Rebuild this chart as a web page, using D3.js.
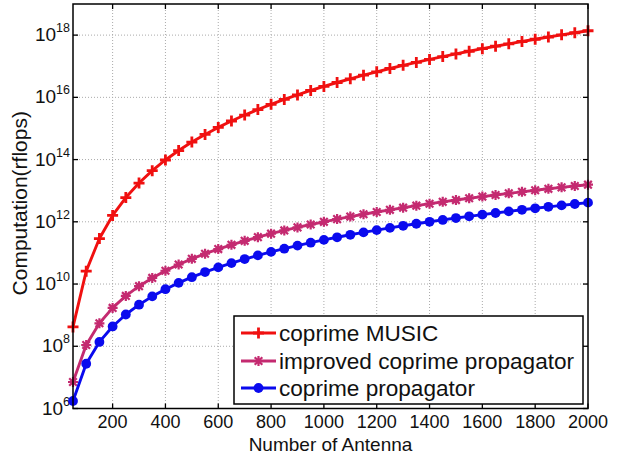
<!DOCTYPE html>
<html><head><meta charset="utf-8">
<script src="https://cdn.jsdelivr.net/npm/d3@7"></script>
<style>body{margin:0;background:#fff;}svg{display:block;font-family:"Liberation Sans",Arial,sans-serif;}</style>
</head><body>
<svg id="c" width="619" height="456"></svg>
<script>
const antennas = [50,100,150,200,250,300,350,400,450,500,550,600,650,700,750,800,850,900,950,1000,
  1050,1100,1150,1200,1250,1300,1350,1400,1450,1500,1550,1600,1650,1700,1750,1800,1850,1900,1950,2000];
const coprimeMUSIC = [4.2e8,2.6e10,2.9e11,1.6e12,6.0e12,1.76e13,4.4e13,9.7e13,1.95e14,3.66e14,
  6.44e14,1.08e15,1.74e15,2.70e15,4.06e15,5.96e15,8.55e15,1.20e16,1.66e16,2.24e16,
  3.00e16,3.95e16,5.15e16,6.62e16,8.45e16,1.07e17,1.33e17,1.66e17,2.04e17,2.49e17,
  3.03e17,3.66e17,4.40e17,5.25e17,6.24e17,7.36e17,8.67e17,1.02e18,1.19e18,1.38e18];
const improvedPropagator = [7.1e6,1.10e8,5.48e8,1.71e9,4.15e9,8.53e9,1.57e10,2.67e10,4.25e10,6.46e10,
  9.42e10,1.33e11,1.82e11,2.45e11,3.21e11,4.15e11,5.28e11,6.62e11,8.20e11,1.00e12,
  1.22e12,1.47e12,1.75e12,2.07e12,2.43e12,2.84e12,3.30e12,3.81e12,4.38e12,5.00e12,
  5.70e12,6.46e12,7.29e12,8.22e12,9.20e12,1.03e13,1.15e13,1.28e13,1.42e13,1.56e13];
const coprimePropagator = [1.74e6,2.74e7,1.38e8,4.33e8,1.05e9,2.17e9,4.01e9,6.82e9,1.09e10,1.66e10,
  2.43e10,3.43e10,4.71e10,6.34e10,8.34e10,1.08e11,1.37e11,1.72e11,2.13e11,2.62e11,
  3.18e11,3.83e11,4.57e11,5.41e11,6.37e11,7.45e11,8.65e11,1.00e12,1.15e12,1.32e12,
  1.50e12,1.70e12,1.92e12,2.16e12,2.43e12,2.72e12,3.03e12,3.37e12,3.73e12,4.13e12];
const xTicks = [200,400,600,800,1000,1200,1400,1600,1800,2000];
const yTickExps = [6,8,10,12,14,16,18];
const seriesNames = ["coprime MUSIC","improved coprime propagator","coprime propagator"];
const seriesColors = ["#f01010","#c42a70","#0a0aee"];
const seriesMarkers = ["plus","star","circle"];
const seriesData = [coprimeMUSIC, improvedPropagator, coprimePropagator];

const svg = d3.select("#c");
const L=73, R=588, T=4, B=408.5;
const x = d3.scaleLinear().domain([50,2000]).range([L,R]);
const y = d3.scaleLog().domain([1e6,1e19]).range([B,T]);

// grid
const g = svg.append("g");
g.selectAll("line.gx").data(xTicks.filter(d=>d<2000)).enter().append("line")
  .attr("x1",d=>x(d)).attr("x2",d=>x(d)).attr("y1",T).attr("y2",B)
  .attr("stroke","#aaa").attr("stroke-width",1).attr("stroke-dasharray","1,2");
g.selectAll("line.gy").data(yTickExps.filter(e=>e>6)).enter().append("line")
  .attr("x1",L).attr("x2",R).attr("y1",e=>y(Math.pow(10,e))).attr("y2",e=>y(Math.pow(10,e)))
  .attr("stroke","#aaa").attr("stroke-width",1).attr("stroke-dasharray","1,2");

// ticks inside on all sides
const tl=5;
xTicks.forEach(d=>{
  svg.append("line").attr("x1",x(d)).attr("x2",x(d)).attr("y1",B).attr("y2",B-tl).attr("stroke","#000").attr("stroke-width",1.3);
  svg.append("line").attr("x1",x(d)).attr("x2",x(d)).attr("y1",T).attr("y2",T+tl).attr("stroke","#000").attr("stroke-width",1.3);
});
yTickExps.forEach(e=>{
  const yy=y(Math.pow(10,e));
  svg.append("line").attr("x1",L).attr("x2",L+tl).attr("y1",yy).attr("y2",yy).attr("stroke","#000").attr("stroke-width",1.3);
  svg.append("line").attr("x1",R).attr("x2",R-tl).attr("y1",yy).attr("y2",yy).attr("stroke","#000").attr("stroke-width",1.3);
});

// tick labels
svg.selectAll("text.xt").data(xTicks).enter().append("text")
  .attr("x",d=>x(d)).attr("y",428).attr("text-anchor","middle")
  .attr("font-size",18).attr("fill","#111").text(d=>d);
yTickExps.forEach(e=>{
  const t=svg.append("text").attr("x",70).attr("y",y(Math.pow(10,e))+6).attr("text-anchor","end")
    .attr("font-size",19).attr("fill","#111");
  t.append("tspan").text("10");
  t.append("tspan").attr("dy",-9).attr("font-size",12.5).text(e);
});

// axis labels
svg.append("text").attr("x",(L+R)/2).attr("y",451).attr("text-anchor","middle")
  .attr("font-size",19).attr("fill","#111").text("Number of Antenna");
svg.append("text").attr("transform",`translate(27,${(T+B)/2 - 3}) rotate(-90)`).attr("text-anchor","middle")
  .attr("font-size",21).attr("fill","#111").text("Computation(rflops)");

// markers
function drawMarker(sel, type, cx, cy, color){
  if(type==="plus"){
    sel.append("path").attr("d",`M${cx-5.5},${cy}H${cx+5.5}M${cx},${cy-5.5}V${cy+5.5}`)
      .attr("stroke",color).attr("stroke-width",2.8).attr("fill","none");
  } else if(type==="star"){
    sel.append("path").attr("d",`M${cx-5},${cy}H${cx+5}M${cx},${cy-5}V${cy+5}M${cx-3.8},${cy-3.8}L${cx+3.8},${cy+3.8}M${cx-3.8},${cy+3.8}L${cx+3.8},${cy-3.8}`)
      .attr("stroke",color).attr("stroke-width",2.2).attr("fill","none");
  } else {
    sel.append("circle").attr("cx",cx).attr("cy",cy).attr("r",4.9).attr("fill",color);
  }
}

const line = d3.line().x((d,i)=>x(antennas[i])).y(d=>y(d));
const plot = svg.append("g");
seriesData.forEach((arr,si)=>{
  plot.append("path").attr("d",line(arr)).attr("fill","none")
    .attr("stroke",seriesColors[si]).attr("stroke-width",2.9).attr("stroke-linejoin","round");
  arr.forEach((v,i)=>drawMarker(plot, seriesMarkers[si], x(antennas[i]), y(v), seriesColors[si]));
});

// axes box
svg.append("rect").attr("x",L).attr("y",T).attr("width",R-L).attr("height",B-T)
  .attr("fill","none").attr("stroke","#000").attr("stroke-width",1.5);

// legend
const lg = svg.append("g");
lg.append("rect").attr("x",234).attr("y",316).attr("width",349).attr("height",88)
  .attr("fill","#fff").attr("stroke","#000").attr("stroke-width",1.5);
const rowY=[333,361,388];
seriesNames.forEach((n,i)=>{
  lg.append("line").attr("x1",241).attr("x2",276).attr("y1",rowY[i]).attr("y2",rowY[i])
    .attr("stroke",seriesColors[i]).attr("stroke-width",2.9);
  drawMarker(lg, seriesMarkers[i], 258.5, rowY[i], seriesColors[i]);
  lg.append("text").attr("x",279).attr("y",rowY[i]+8).attr("font-size",22.6).attr("fill","#111").text(n);
});
</script>
</body></html>
